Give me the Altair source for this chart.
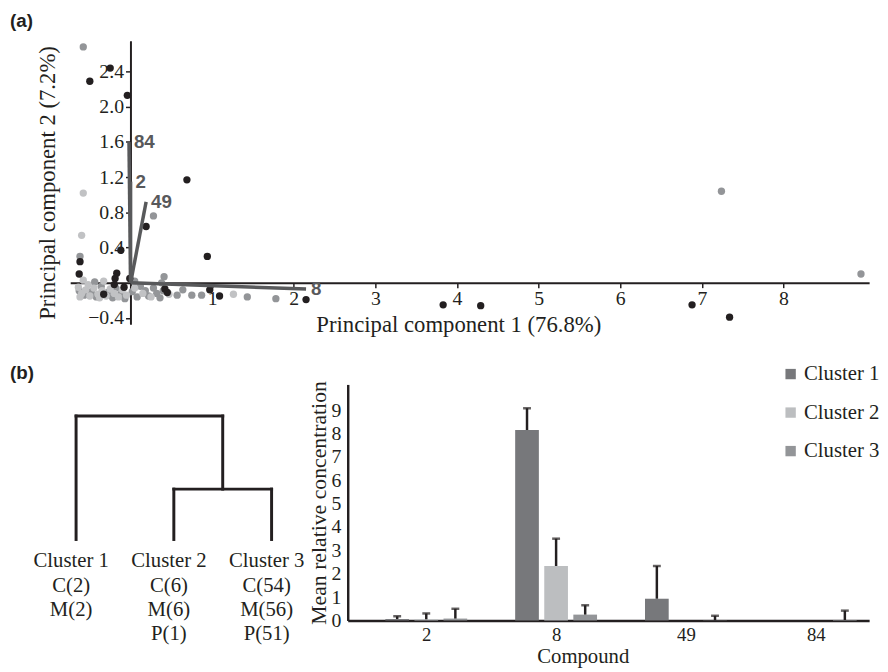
import altair as alt
import pandas as pd

SERIF = "Liberation Serif"
SANS = "Liberation Sans"
INK = "#231f20"
VEC = "#58595b"

# ---------------- (a) PCA biplot data ----------------
black_pc1 = [-0.25, -0.50, -0.04, 0.69, 0.19, -0.12, -0.62, 0.94, -0.63, -0.17,
             -0.19, -0.01, 0.42, 0.45, 0.97, 1.09, 2.15, 3.83, 4.29, 6.88,
             7.34, -0.33, -0.08, -0.20]
black_pc2 = [2.44, 2.29, 2.13, 1.17, 0.64, 0.37, 0.24, 0.30, 0.10, 0.11,
             0.05, 0.05, -0.07, -0.11, -0.08, -0.15, -0.19, -0.25, -0.26, -0.25,
             -0.39, -0.13, -0.05, -0.02]
mid_pc1 = [-0.58, 7.24, 8.95, -0.62, 0.28, 0.41, 0.64, 0.57, 0.75, 0.87, 1.43, 1.78,
           -0.63, -0.57, -0.48, -0.42, -0.36, -0.28, -0.22, -0.18, -0.12, -0.07,
           0.02, 0.08, 0.12, 0.18, 0.22, 0.28, 0.32, 0.36, 0.40, 0.05, 0.38, -0.44]
mid_pc2 = [2.68, 1.04, 0.10, 0.30, 0.76, 0.07, -0.08, -0.14, -0.14, -0.14, -0.16, -0.18,
           -0.09, -0.14, -0.10, -0.16, -0.04, -0.11, -0.17, -0.06, -0.13, -0.18,
           -0.10, -0.16, -0.04, -0.09, -0.15, -0.06, -0.12, -0.17, -0.09, 0.02, 0.00, 0.01]
light_pc1 = [-0.58, -0.60, 1.26, 0.47, -0.64, -0.60, -0.55, -0.50, -0.45, -0.40,
             -0.35, -0.30, -0.25, -0.20, -0.15, -0.10, -0.62, -0.52, -0.38, -0.05,
             0.05, 0.15, 0.25, -0.58, -0.33]
light_pc2 = [1.02, 0.54, -0.13, -0.13, -0.05, -0.12, -0.08, -0.15, -0.06, -0.13,
             -0.09, -0.15, -0.07, -0.12, -0.16, -0.08, -0.16, -0.02, -0.17, -0.14,
             -0.06, -0.12, -0.16, 0.03, 0.02]

vec_names = ["84", "2", "49", "8"]
vec_pc1 = [-0.02, 0.00, 0.19, 2.15]
vec_pc2 = [1.60, 1.15, 0.92, -0.07]

x_ticks = [1, 2, 3, 4, 5, 6, 7, 8]
y_ticks = [-0.4, 0.4, 0.8, 1.2, 1.6, 2.0, 2.4]

# ---------------- (b) dendrogram data ----------------
leaf_pos = [1, 2, 3]
leaf_text = ["Cluster 1\nC(2)\nM(2)",
             "Cluster 2\nC(6)\nM(6)\nP(1)",
             "Cluster 3\nC(54)\nM(56)\nP(51)"]
merge_heights = [2.04, 5.0]   # (2,3) merge, then (1,(2,3)) merge

# ---------------- (b) bar chart data ----------------
compounds = ["2", "8", "49", "84"]
clusters = ["Cluster 1", "Cluster 2", "Cluster 3"]
mean_c1 = [0.06, 8.15, 0.93, 0.0]
mean_c2 = [0.05, 2.33, 0.0, 0.0]
mean_c3 = [0.08, 0.25, 0.01, 0.02]
upper_c1 = [0.18, 9.08, 2.33, 0.0]
upper_c2 = [0.30, 3.50, 0.0, 0.0]
upper_c3 = [0.50, 0.65, 0.20, 0.42]
bar_colors = ["#77787b", "#bcbec0", "#939598"]
BAR_STEP = 0.224   # spacing of the three bars inside a compound group (style)

# ================= panel (a) =================
pts = pd.DataFrame({
    "pc1": mid_pc1 + light_pc1 + black_pc1,
    "pc2": mid_pc2 + light_pc2 + black_pc2,
    "grp": ["mid"] * len(mid_pc1) + ["light"] * len(light_pc1) + ["black"] * len(black_pc1),
})
vec = pd.DataFrame({"compound": vec_names, "pc1": vec_pc1, "pc2": vec_pc2,
                    "o1": [0.0] * 4, "o2": [0.0] * 4})

xs = alt.Scale(domain=[-0.74, 9.05], nice=False, zero=False)
ys = alt.Scale(domain=[-0.47, 2.75], nice=False, zero=False)
XT = "Principal component 1 (76.8%)"
YT = "Principal component 2 (7.2%)"
xaxis = alt.Axis(values=x_ticks, format="d", offset=-42, tickSize=5, tickWidth=1.5,
                 domainWidth=2, grid=False, labelPadding=1, titlePadding=5, titleX=393,
                 labelFontSize=20, titleFontSize=23)
yaxis = alt.Axis(values=y_ticks, format=".1f", offset=-61, tickSize=5, tickWidth=1.5,
                 domainWidth=2, grid=False, labelPadding=2, titlePadding=29,
                 labelFontSize=20, titleFontSize=23)


def X(f):
    return alt.X(f + ":Q", scale=xs, axis=xaxis, title=XT)


def Y(f):
    return alt.Y(f + ":Q", scale=ys, axis=yaxis, title=YT)


points = alt.Chart(pts).mark_circle(size=55, opacity=1).encode(
    x=X("pc1"), y=Y("pc2"),
    color=alt.Color("grp:N", scale=alt.Scale(domain=["black", "mid", "light"],
                                              range=[INK, "#939598", "#c1c2c4"]),
                    legend=None),
)
vrules = alt.Chart(vec).mark_rule(color=VEC, strokeWidth=3.5).encode(
    x=X("o1"), y=Y("o2"), x2="pc1:Q", y2="pc2:Q")
vlabels = alt.Chart(vec).mark_text(align="left", baseline="middle", dx=5, font=SANS,
                                   fontSize=19, fontWeight="bold", color=VEC).encode(
    x=X("pc1"), y=Y("pc2"), text="compound:N")

top = alt.layer(points, vrules, vlabels).properties(
    width=809, height=287,
    title=alt.TitleParams("(a)", anchor="start", frame="group", dx=-61, offset=10,
                          font=SANS, fontSize=19, fontWeight="bold", color=INK),
)

# ================= panel (b) dendrogram =================
h1, h2 = merge_heights
mid23 = (leaf_pos[1] + leaf_pos[2]) / 2
segs = pd.DataFrame({
    "x": [leaf_pos[1], leaf_pos[2], leaf_pos[1], leaf_pos[0], mid23, leaf_pos[0]],
    "x2": [leaf_pos[1], leaf_pos[2], leaf_pos[2], leaf_pos[0], mid23, mid23],
    "y": [0, 0, h1, 0, h1, h2],
    "y2": [h1, h1, h1, h2, h2, h2],
})
leaves = pd.DataFrame({"x": leaf_pos, "y": [0] * 3, "label": leaf_text})
dxs = alt.Scale(domain=[0.94, 3.405], nice=False, zero=False)
dys = alt.Scale(domain=[-4.4, 6.28], nice=False, zero=False)

dlines = alt.Chart(segs).mark_rule(color=INK, strokeWidth=3, strokeCap="square").encode(
    x=alt.X("x:Q", scale=dxs, axis=None), x2="x2:Q",
    y=alt.Y("y:Q", scale=dys, axis=None), y2="y2:Q")
dtext = alt.Chart(leaves).mark_text(baseline="top", align="center", dy=11, dx=-5,
                                    lineBreak="\n", lineHeight=24.7, font=SERIF,
                                    fontSize=21, color=INK).encode(
    x=alt.X("x:Q", scale=dxs, axis=None), y=alt.Y("y:Q", scale=dys, axis=None),
    text="label:N")
dendro = alt.layer(dlines, dtext).properties(
    width=244, height=267,
    title=alt.TitleParams("(b)", anchor="start", frame="group", dx=-61, offset=2,
                          font=SANS, fontSize=19, fontWeight="bold", color=INK),
)

# ================= panel (b) bar chart =================
rows = []
for ci, (m, u) in enumerate([(mean_c1, upper_c1), (mean_c2, upper_c2), (mean_c3, upper_c3)]):
    for k, comp in enumerate(compounds):
        rows.append({"compound": comp, "cluster": clusters[ci], "mean": m[k], "upper": u[k],
                     "pos": k + (ci - 1) * BAR_STEP})
bars_df = pd.DataFrame(rows)

label_expr = "[" + ",".join("'%s'" % c for c in compounds) + "][datum.value]"
bx_scale = alt.Scale(domain=[-0.567, 3.373], nice=False, zero=False)
bx_axis = alt.Axis(values=list(range(len(compounds))), labelExpr=label_expr,
                   ticks=False, tickSize=0, labelPadding=5, labelFontSize=19,
                   domainWidth=2.5, grid=False, titlePadding=2, titleX=238,
                   titleFontSize=21)
bx = alt.X("pos:Q", scale=bx_scale, axis=bx_axis, title="Compound")
by_scale = alt.Scale(domain=[0, 10.1], nice=False, zero=True)
by_axis = alt.Axis(values=list(range(10)), ticks=False, tickSize=0, labelPadding=7,
                   labelFontSize=20, domainWidth=2.5, grid=False, titlePadding=0,
                   titleFontSize=22)
YB = "Mean relative concentration"

bars = alt.Chart(bars_df).mark_bar(size=24, orient="vertical").encode(
    x=bx,
    y=alt.Y("mean:Q", scale=by_scale, axis=by_axis, title=YB, stack=None),
    color=alt.Color("cluster:N", sort=clusters,
                    scale=alt.Scale(domain=clusters, range=bar_colors),
                    legend=alt.Legend(orient="none", legendX=719, legendY=-21, title=None,
                                      symbolType="square", symbolSize=110,
                                      symbolStrokeWidth=0, labelFont=SERIF,
                                      labelFontSize=21, labelColor=INK, rowPadding=17,
                                      labelOffset=3, padding=0)),
)
err_rule = alt.Chart(bars_df).transform_filter("datum.upper > datum.mean").mark_rule(
    color=INK, strokeWidth=2.5).encode(
    x=bx,
    y=alt.Y("mean:Q", scale=by_scale, axis=by_axis, title=YB), y2="upper:Q")
err_cap = alt.Chart(bars_df).transform_filter("datum.upper > datum.mean").mark_tick(
    color=INK, thickness=2.5, size=8, orient="horizontal").encode(
    x=bx,
    y=alt.Y("upper:Q", scale=by_scale, axis=by_axis, title=YB))

barchart = alt.layer(bars, err_rule, err_cap).properties(width=528, height=239)

bottom = alt.hconcat(dendro, barchart, spacing=37, bounds="flush")
chart = alt.vconcat(top, bottom, spacing=61, bounds="flush").properties(
    padding={"left": 2, "top": 0, "right": 0, "bottom": 0}
).resolve_scale(color="independent").configure_view(stroke=None).configure_axis(
    labelFont=SERIF, labelColor=INK,
    titleFont=SERIF, titleFontWeight="normal", titleColor=INK,
    domainColor=INK, tickColor=INK,
)

chart.save("out.html", embed_options={"renderer": "svg", "actions": False})
